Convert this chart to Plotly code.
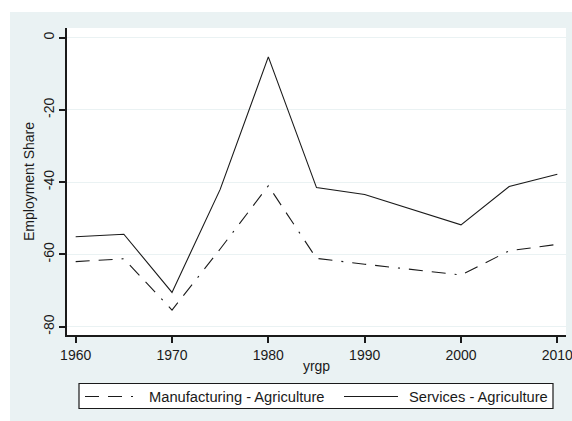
import plotly.graph_objects as go

# Employment share differences relative to agriculture, by year group
years = [1960, 1965, 1970, 1975, 1980, 1985, 1990, 1995, 2000, 2005, 2010]
manuf_minus_agri = [-62.0, -61.2, -75.4, -58.5, -41.0, -61.1, -62.7, -64.3, -65.7, -59.0, -57.2]
serv_minus_agri = [-55.1, -54.4, -70.5, -42.0, -5.3, -41.5, -43.4, -47.7, -51.8, -41.2, -37.8]
series_names = ["Manufacturing - Agriculture", "Services - Agriculture"]

x_ticks = [1960, 1970, 1980, 1990, 2000, 2010]
y_ticks = [0, -20, -40, -60, -80]

BG = "#EAF2F3"
INK = "#1a1a1a"
FONT = "Arial, Liberation Sans, sans-serif"
DASH_MANUF = "14px,9px,14px,9px,2px,9px"
STYLES = [dict(color=INK, width=1.1, dash=DASH_MANUF),
          dict(color=INK, width=1.1)]

fig = go.Figure()
for name, vals, style in zip(series_names, [manuf_minus_agri, serv_minus_agri], STYLES):
    fig.add_trace(go.Scatter(x=years, y=vals, mode="lines", name=name,
                             line=style, showlegend=False))

W, H = 572, 421
ml, mr, mt, mb = 67, 6, 28, 86
pw, ph = W - ml - mr, H - mt - mb


def px_x(p):
    """Page pixel column -> paper x."""
    return (p - ml) / pw


def px_y(p):
    """Page pixel row -> paper y."""
    return (H - mb - p) / ph


shapes = [
    # light outer panel and white plot region
    dict(type="rect", xref="paper", yref="paper",
         x0=px_x(10), x1=px_x(W), y0=px_y(12), y1=px_y(H),
         fillcolor=BG, line=dict(width=0), layer="below"),
    dict(type="rect", xref="paper", yref="paper",
         x0=0, x1=1, y0=0, y1=1,
         fillcolor="white", line=dict(width=0), layer="below"),
    # legend frame
    dict(type="rect", xref="paper", yref="paper",
         x0=px_x(79), x1=px_x(553), y0=px_y(383.5), y1=px_y(408.5),
         fillcolor="white", line=dict(color=INK, width=1.2)),
]
annotations = []

# legend keys: (sample start, sample end, text start) in page pixels
legend_slots = [(85, 139, 147), (344, 398, 407)]
key_row = 396.5
for name, style, (s0, s1, t0) in zip(series_names, STYLES, legend_slots):
    shapes.append(dict(type="line", xref="paper", yref="paper",
                       x0=px_x(s0), x1=px_x(s1), y0=px_y(key_row), y1=px_y(key_row),
                       line=style))
    annotations.append(dict(xref="paper", yref="paper", x=px_x(t0), y=px_y(key_row),
                            xanchor="left", yanchor="middle", showarrow=False,
                            text=name, font=dict(size=14.7, color=INK, family=FONT)))

fig.update_layout(
    width=W, height=H,
    margin=dict(l=ml, r=mr, t=mt, b=mb, pad=0, autoexpand=False),
    paper_bgcolor="white",
    plot_bgcolor="white",
    font=dict(family=FONT, color=INK, size=14),
    showlegend=False,
    shapes=shapes,
    annotations=annotations,
)

fig.update_xaxes(
    range=[1959.1, 2010.9],
    tickvals=x_ticks, ticktext=[str(t) for t in x_ticks],
    showgrid=False, zeroline=False, automargin=False,
    showline=True, linecolor=INK, linewidth=1.5,
    ticks="outside", ticklen=6, tickwidth=1.5, tickcolor=INK,
    tickfont=dict(size=14), ticklabeloverflow="allow",
    title=dict(text="yrgp", font=dict(size=14), standoff=0),
)
fig.update_yaxes(
    range=[-82.3, 2.68],
    tickvals=y_ticks, ticktext=[str(t) for t in y_ticks],
    showgrid=True, gridcolor=BG, gridwidth=1.2,
    zeroline=False, automargin=False,
    showline=True, linecolor=INK, linewidth=1.5,
    ticks="outside", ticklen=6, tickwidth=1.5, tickcolor=INK,
    tickangle=-90,
    tickfont=dict(size=14),
    title=dict(text="Employment Share", font=dict(size=14), standoff=3),
)

fig.write_html("out.html")
